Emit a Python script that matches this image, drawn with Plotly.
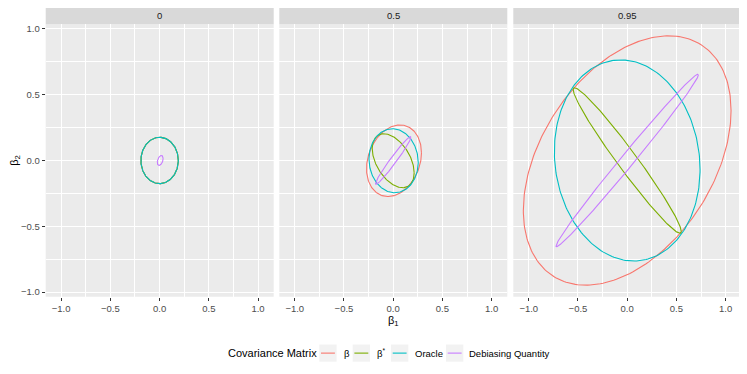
import numpy as np
import plotly.graph_objects as go

# facet labels and legend entries
panels = ["0", "0.5", "0.95"]
series = ["β", "β<sup>*</sup>", "Oracle", "Debiasing Quantity"]
colors = ["#F8766D", "#7CAE00", "#00BFC4", "#C77CFF"]

# ellipse parameters per panel, per series (β, β*, Oracle, Debiasing Quantity)
center_x = [[0.0, 0.0, 0.0, 0.006],
            [0.008, 0.0, 0.004, 0.0],
            [0.0, 0.0, 0.0, 0.0]]
center_y = [[0.0, 0.0, 0.0, 0.0],
            [-0.002, -0.002, -0.002, 0.0],
            [0.0, 0.0, 0.0, 0.0]]
half_width = [[0.19, 0.19, 0.19, 0.03],
              [0.279, 0.213, 0.25, 0.18],
              [1.055, 0.549, 0.74, 0.723]]
half_height = [[0.176, 0.176, 0.176, 0.038],
               [0.272, 0.205, 0.243, 0.181],
               [0.947, 0.553, 0.764, 0.655]]
corr = [[0.0, 0.0, 0.0, 0.4],
        [0.22, -0.45, -0.05, 0.975],
        [0.4, -0.975, -0.09, 0.993]]

tick_vals = [-1.0, -0.5, 0.0, 0.5, 1.0]

# the page body has an 8px margin, so the figure is a bit smaller than the window
OFF = 8
W, H = 747 - OFF, 374 - OFF


def px(x):
    return (x - OFF) / W


def py(y):
    return 1 - (y - OFF) / H


x_dom = [(45.7, 273.7), (279.3, 507.3), (513.3, 741.3)]
y_dom = (297.3, 23.3)
strip = (23.3, 5.0)

font = "Liberation Sans, Arial, sans-serif"
t = np.linspace(0, 2 * np.pi, 241)

fig = go.Figure()
for p in range(len(panels)):
    for s in range(len(series)):
        r = corr[p][s]
        x = center_x[p][s] + half_width[p][s] * np.cos(t)
        y = center_y[p][s] + half_height[p][s] * (r * np.cos(t) + np.sqrt(1 - r * r) * np.sin(t))
        suffix = "" if p == 0 else str(p + 1)
        fig.add_trace(go.Scatter(
            x=x, y=y, mode="lines",
            line=dict(color=colors[s], width=1.1),
            name=series[s], legendgroup=series[s],
            showlegend=False,
            xaxis="x" + suffix, yaxis="y" + suffix,
            hoverinfo="skip",
        ))

shapes = []
annotations = []

layout = dict(
    width=W, height=H,
    margin=dict(l=0, r=0, t=0, b=0),
    paper_bgcolor="white",
    plot_bgcolor="#EBEBEB",
    font=dict(family=font, size=9.5, color="#4D4D4D"),
    showlegend=False,
)

for p in range(len(panels)):
    suffix = "" if p == 0 else str(p + 1)
    x0, x1 = px(x_dom[p][0]), px(x_dom[p][1])
    xa = dict(
        domain=[x0, x1], range=[-1.157, 1.159], anchor="y" + suffix,
        tickvals=tick_vals, tickformat=".1f",
        ticks="outside", ticklen=3, tickcolor="#333333", tickwidth=1,
        showgrid=True, gridcolor="white", gridwidth=1,
        minor=dict(dtick=0.25, tick0=0, showgrid=True, gridcolor="white", gridwidth=0.5),
        zeroline=False, showline=False,
        tickfont=dict(size=9.5, color="#4D4D4D"),
    )
    ya = dict(
        domain=[py(y_dom[0]), py(y_dom[1])], range=[-1.035, 1.035],
        anchor="x" + suffix,
        tickvals=tick_vals, tickformat=".1f",
        ticks="outside" if p == 0 else "", ticklen=3, tickcolor="#333333", tickwidth=1,
        showticklabels=(p == 0),
        showgrid=True, gridcolor="white", gridwidth=1,
        minor=dict(dtick=0.25, tick0=0, showgrid=True, gridcolor="white", gridwidth=0.5),
        zeroline=False, showline=False,
        tickfont=dict(size=9.5, color="#4D4D4D"),
    )
    if p == 1:
        xa["title"] = dict(text="β<sub>1</sub>", font=dict(size=11, color="black"), standoff=0)
    if p == 0:
        ya["title"] = dict(text="β<sub>2</sub>", font=dict(size=11, color="black"), standoff=1)
    layout["xaxis" + suffix] = xa
    layout["yaxis" + suffix] = ya

    # facet strip
    shapes.append(dict(
        type="rect", xref="paper", yref="paper",
        x0=x0, x1=x1, y0=py(strip[0]), y1=py(strip[1]),
        fillcolor="#D9D9D9", line=dict(width=0), layer="below",
    ))
    annotations.append(dict(
        text=panels[p], xref="paper", yref="paper",
        x=(x0 + x1) / 2, y=py((strip[0] + strip[1]) / 2),
        xanchor="center", yanchor="middle", showarrow=False,
        font=dict(size=9.5, color="#1A1A1A"),
    ))

# legend drawn below the panels, ggplot style
leg_y = 354
key_size = 17.3
key_left = [319.3, 352.7, 391.0, 446.0]
label_left = [342.0, 374.5, 413.0, 467.5]

annotations.append(dict(
    text="Covariance Matrix", xref="paper", yref="paper",
    x=px(226.0), y=py(leg_y), xanchor="left", yanchor="middle",
    showarrow=False, font=dict(size=11, color="black"),
))
for s in range(len(series)):
    kx = key_left[s]
    shapes.append(dict(
        type="rect", xref="paper", yref="paper",
        x0=px(kx), x1=px(kx + key_size),
        y0=py(leg_y + key_size / 2), y1=py(leg_y - key_size / 2),
        fillcolor="#F2F2F2", line=dict(width=0),
    ))
    shapes.append(dict(
        type="line", xref="paper", yref="paper",
        x0=px(kx + 1.7), x1=px(kx + key_size - 1.7),
        y0=py(leg_y), y1=py(leg_y),
        line=dict(color=colors[s], width=1.1),
    ))
    annotations.append(dict(
        text=series[s], xref="paper", yref="paper",
        x=px(label_left[s]), y=py(leg_y), xanchor="left", yanchor="middle",
        showarrow=False, font=dict(size=9.5, color="black"),
    ))

layout["shapes"] = shapes
layout["annotations"] = annotations

fig.update_layout(**layout)
fig.write_html("out.html")
